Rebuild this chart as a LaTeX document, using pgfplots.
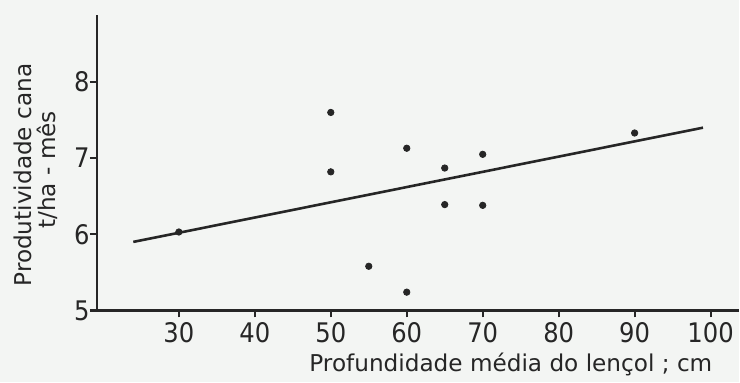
\documentclass[border=0pt]{standalone}
\usepackage{pgfplots}
\pgfplotsset{compat=1.18}
\usepackage{fontspec}
\setmainfont{DejaVu Sans}
\newfontfamily\tickfont{DejaVu Sans Condensed}
\definecolor{ink}{RGB}{38,38,38}
\definecolor{paper}{RGB}{243,245,243}
\begin{document}
\begin{tikzpicture}
% paper background, axis box sits with its lower left corner at the origin
\fill[paper] (-48.5pt,-36pt) rectangle (321.5pt,155.5pt);
\begin{axis}[
  scale only axis,
  width=321.5pt, height=148pt,
  xmin=19.2, xmax=103.7,
  ymin=5, ymax=8.88,
  axis x line*=bottom,
  axis y line*=left,
  axis line style={ink, line width=1.3pt},
  xtick={30,40,...,100},
  ytick={5,6,7,8},
  tick align=outside,
  major tick length=3.5pt,
  tick style={ink, line width=1.1pt},
  /pgf/number format/assume math mode=true,
  ticklabel style={font=\tickfont\fontsize{13.5}{15}\selectfont, text=ink, inner sep=0.5pt},
  xticklabel style={yshift=-2pt},
  yticklabel style={xshift=0.5pt},
  clip=false,
]
% fitted regression line
\addplot[ink, line width=1.3pt] coordinates {(24,5.90) (99,7.40)};

% observed values
\addplot[only marks, mark=*, mark size=1.6pt, ink] coordinates {
  (30,6.03) (50,7.60) (50,6.82) (55,5.58) (60,7.13) (60,5.24)
  (65,6.87) (65,6.39) (70,7.05) (70,6.38) (90,7.33)
};

\node[ink, inner sep=0.5pt, font=\fontsize{11.6}{13}\selectfont]
  at (rel axis cs:0.645,-0.182) {Profundidade média do lençol ; cm};
\node[ink, rotate=90, inner sep=0.5pt, font=\fontsize{11.6}{13}\selectfont]
  at (rel axis cs:-0.1151,0.458) {Produtividade cana};
\node[ink, rotate=90, inner sep=0.5pt, font=\fontsize{11.6}{13}\selectfont]
  at (rel axis cs:-0.0778,0.476) {t/ha - mês};
\end{axis}
\end{tikzpicture}
\end{document}
